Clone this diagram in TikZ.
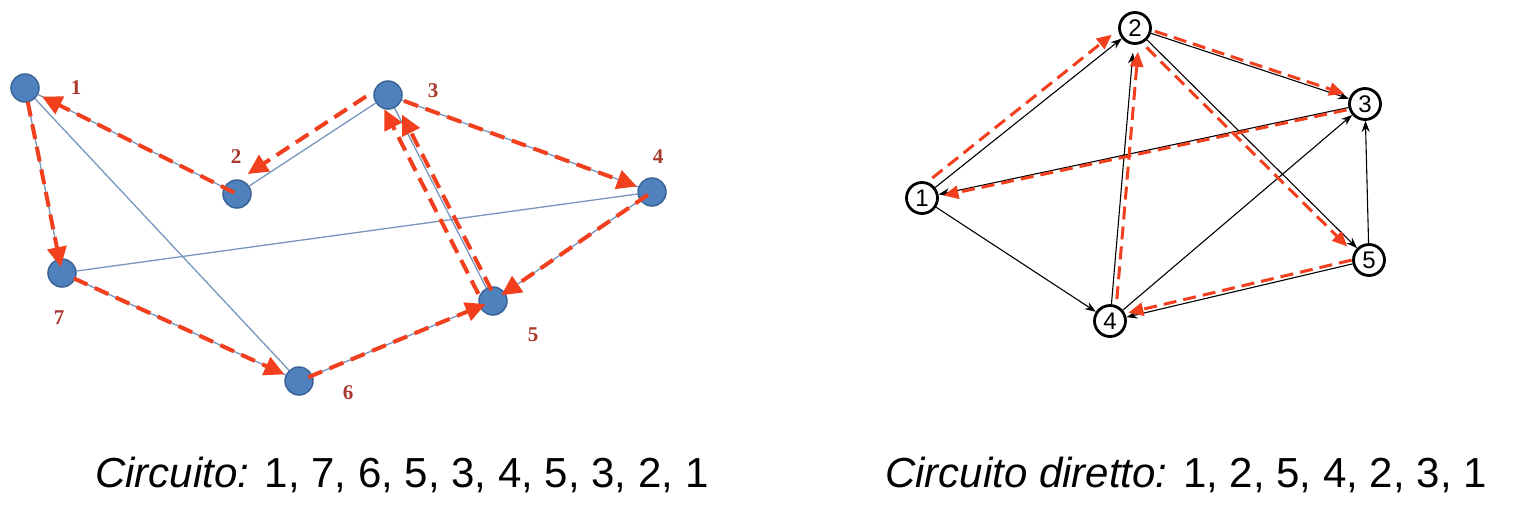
\documentclass[tikz,border=0pt]{standalone}
\usepackage{fontspec}
\setmainfont{Liberation Sans}
\newfontfamily\lblfont{Liberation Serif}
\usetikzlibrary{arrows.meta}
\definecolor{nodeblue}{HTML}{4F81BD}
\definecolor{nodeedge}{HTML}{3B6496}
\definecolor{edgeblue}{HTML}{7896BE}
\definecolor{redarr}{HTML}{F2401E}
\definecolor{lblred}{HTML}{A8392C}
\begin{document}
\begin{tikzpicture}[x=1pt,y=-1pt,
 lnode/.style={circle,fill=nodeblue,draw=nodeedge,line width=1.5pt,minimum size=28pt,inner sep=0pt},
 llabel/.style={font=\lblfont\bfseries\fontsize{21}{24}\selectfont,text=lblred,inner sep=0pt},
 ledge/.style={draw=edgeblue,line width=1.3pt},
 lred/.style={draw=redarr,line width=4pt,dash pattern=on 15pt off 8pt,-{Triangle[length=20pt,width=19pt]}},
 rnode/.style={circle,draw=black,fill=white,line width=2.8pt,minimum size=31pt,inner sep=0pt,font=\fontsize{24}{26}\selectfont},
 redge/.style={draw=black,line width=1.1pt,-{Stealth[length=11pt,width=8pt]}},
 rred/.style={draw=redarr,line width=3pt,dash pattern=on 13pt off 7pt,-{Triangle[length=15pt,width=13pt]}},
 caption/.style={font=\fontsize{42}{48}\selectfont,inner sep=0pt,anchor=base west}]
\useasboundingbox[fill=white] (0,0) rectangle (1519,512);

% ---------- left graph ----------
\node[lnode] (a1) at (25,88) {};
\node[lnode] (a2) at (237,194) {};
\node[lnode] (a3) at (388,95) {};
\node[lnode] (a4) at (652,192) {};
\node[lnode] (a5) at (493,301) {};
\node[lnode] (a6) at (299,381) {};
\node[lnode] (a7) at (62,273) {};

\foreach \u/\v in {a1/a7,a1/a6,a1/a2,a2/a3,a3/a5,a3/a4,a4/a7,a4/a5,a5/a6,a6/a7}
  \draw[ledge] (\u) -- (\v);

\draw[lred, shorten <=14pt, shorten >=6pt] (a1.center) -- (a7.center);
\draw[lred, shorten <=3pt, shorten >=19pt] (a2.center) -- (a1.center);
\draw[lred, transform canvas={shift={(-6,-9)}}, shorten <=19pt, shorten >=20pt] (a3.center) -- (a2.center);
\draw[lred, shorten <=17pt, shorten >=16pt] (a3.center) -- (a4.center);
\draw[lred, shorten <=5pt, shorten >=10pt] (a4.center) -- (a5.center);
\draw[lred, shorten <=10pt, shorten >=8pt] (a6.center) -- (a5.center);
\draw[lred, shorten <=13pt, shorten >=16pt] (a7.center) -- (a6.center);
\draw[lred, transform canvas={shift={(-11,0)}}, shorten <=8pt, shorten >=16pt] (a5.center) -- (a3.center);
\draw[lred, transform canvas={shift={(4,0)}}, shorten <=12pt, shorten >=22pt] (a5.center) -- (a3.center);

\node[llabel] (l1) at (76,88) {1};
\node[llabel] (l2) at (236,157) {2};
\node[llabel] (l3) at (433,91) {3};
\node[llabel] (l4) at (658,157) {4};
\node[llabel] (l5) at (533,335) {5};
\node[llabel] (l6) at (348,393) {6};
\node[llabel] (l7) at (59,318) {7};

% ---------- right graph ----------
\node[rnode] (b1) at (922,198) {1};
\node[rnode] (b2) at (1135,28) {2};
\node[rnode] (b3) at (1365,104) {3};
\node[rnode] (b4) at (1110,321) {4};
\node[rnode] (b5) at (1369,260) {5};

\draw[redge] (b1) -- (b2);
\draw[redge] (b1) -- (b4);
\draw[redge] (b2) -- (b3);
\draw[redge] (b2) -- (b5);
\draw[redge] (b3) -- (b1);
\draw[redge, shorten >=8pt] (b4) -- (b2);
\draw[redge] (b4) -- (b3);
\draw[redge] (b5) -- (b3);
\draw[redge] (b5) -- (b4);

\draw[rred, transform canvas={shift={(-6,-7)}}, shorten <=4pt, shorten >=5pt] (b1) -- (b2);
\draw[rred, transform canvas={shift={(1,-3)}}, shorten <=3pt, shorten >=6pt] (b2) -- (b3);
\draw[rred, transform canvas={shift={(-4,4)}}, shorten <=5pt, shorten >=8pt] (b2) -- (b5);
\draw[rred, transform canvas={shift={(0,-4)}}, shorten <=1pt, shorten >=2pt] (b5) -- (b4);
\draw[rred, transform canvas={shift={(5,0)}}, shorten <=5pt, shorten >=7pt] (b4) -- (b2);
\draw[rred, transform canvas={shift={(0,2)}}, shorten <=2pt, shorten >=5pt] (b3) -- (b1);

% ---------- captions ----------
\node[caption] (c1) at (95,487) {\textit{Circuito:} 1, 7, 6, 5, 3, 4, 5, 3, 2, 1};
\node[caption] (c2) at (885,487) {\textit{Circuito diretto:} 1, 2, 5, 4, 2, 3, 1};
\end{tikzpicture}
\end{document}
